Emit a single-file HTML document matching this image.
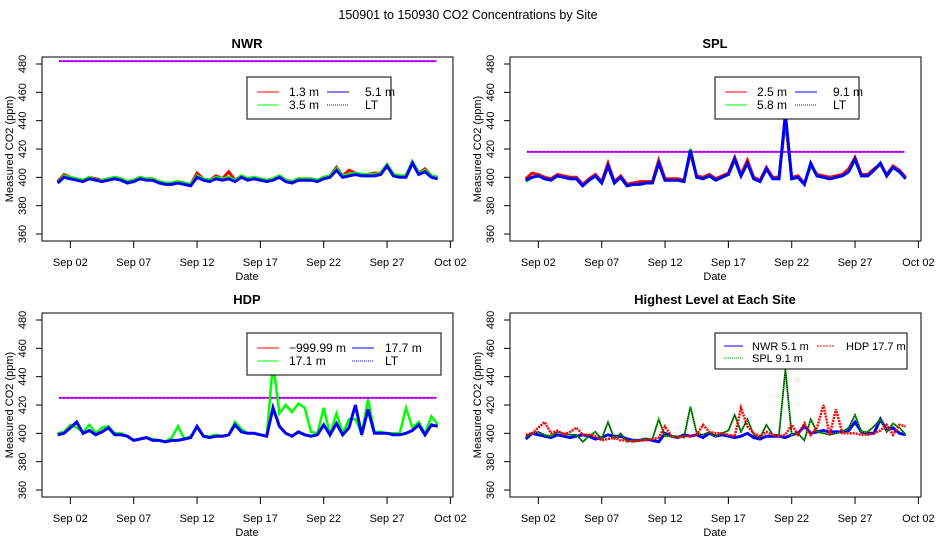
<!DOCTYPE html>
<html><head><meta charset="utf-8"><style>
html,body{margin:0;padding:0;background:#fff;}
svg{display:block;font-family:"Liberation Sans",sans-serif;}
</style></head><body>
<svg id="chart" width="936" height="540" viewBox="0 0 936 540" xmlns="http://www.w3.org/2000/svg">
<rect width="936" height="540" fill="#fff"/>
<text x="468" y="19" font-size="12.5" text-anchor="middle">150901  to  150930 CO2 Concentrations by Site</text>
</svg>
<script>
// half-day samples, index i -> Sep (1 + i/2)
const xTickLabels = ["Sep 02","Sep 07","Sep 12","Sep 17","Sep 22","Sep 27","Oct 02"];
const xTickDays = [2,7,12,17,22,27,32];
const yTicks = [360,380,400,420,440,460,480];

const nwr51 = [396,400,399,398,397,399,398,397,398,399, 398,396,397,399,398,398,396,395,395,396, 395,394,400,398,397,399,398,399,397,400, 398,399,398,397,398,400,397,396,398,398, 398,397,399,400,405,400,401,402,401,401, 401,402,408,401,400,400,410,402,404,400, 399];
const nwr13 = [397,402,400,399,398,400,399,398,399,400, 399,397,398,400,399,399,397,396,396,397, 396,395,403,399,398,401,399,404,398,401, 399,400,399,398,399,401,398,397,399,399, 399,398,400,401,407,401,405,403,402,402, 403,403,409,402,401,401,411,403,406,401, 400];
const nwr35 = [396,401,400,399,398,400,398,398,399,400, 399,397,398,400,399,399,397,396,396,397, 396,395,401,399,398,400,399,400,398,401, 399,400,399,398,399,401,398,397,399,399, 399,398,400,401,406,401,402,403,402,402, 402,403,409,402,401,401,411,403,405,401, 400];
const spl91 = [398,400,401,399,398,401,400,399,399,394, 398,401,396,408,396,400,394,395,395,396, 396,410,398,398,398,397,419,400,399,401, 398,400,402,413,401,410,399,397,406,399, 399,445,399,400,395,410,401,400,399,400, 401,404,413,401,401,405,410,401,407,404, 399];
const spl25 = [399,403,402,400,399,402,401,400,400,395, 399,402,397,410,397,401,395,396,397,397, 397,412,399,399,399,398,417,401,400,402, 399,401,403,414,402,412,400,398,407,400, 400,440,400,401,396,408,402,401,400,401, 402,406,414,402,402,406,409,402,408,405, 400];
const spl58 = [397,400,401,399,398,401,400,399,399,394, 398,401,396,408,396,400,394,395,395,396, 396,410,398,398,398,397,420,400,399,401, 398,400,402,412,401,410,399,397,406,399, 399,443,399,400,395,409,401,400,399,400, 401,404,412,401,401,405,410,401,407,404, 399];
const hdp177 = [399,400,404,408,400,402,399,401,404,399, 399,398,395,396,397,395,395,394,395,395, 396,397,405,398,397,398,398,399,406,401, 400,400,399,398,418,405,400,398,401,399, 398,399,406,399,407,399,404,420,399,417, 400,400,400,399,399,400,402,406,399,406, 405];
const hdp171 = [400,401,406,404,401,406,400,404,405,400, 400,398,395,396,397,396,395,394,397,405, 396,398,404,398,398,399,398,399,408,403, 400,400,399,398,450,414,420,415,421,418, 401,400,418,399,414,400,410,410,400,424, 401,401,400,400,400,418,404,408,400,412, 406];
const ltNWR = [482];
const ltSPL = [418];
const ltHDP = [425];

const svg = document.getElementById('chart');
const NS = 'http://www.w3.org/2000/svg';
function el(tag, attrs, parent){
  const e = document.createElementNS(NS, tag);
  for (const k in attrs) e.setAttribute(k, attrs[k]);
  (parent||svg).appendChild(e);
  return e;
}
function xScale(ox, day){ return ox + 57.7 + (day - 1) * 12.667; }
function yScale(oy, v){ return oy + 64 + (480 - v) * 1.4167; }

function panel(ox, oy, title, name){
  const g = el('g', {});
  
  
  const t = el('text', {x: ox + 247, y: oy + 48, 'font-size': 13, 'font-weight': 'bold', 'text-anchor': 'middle'}, g);
  t.textContent = title;
  
  
  const box = el('rect', {x: ox + 42, y: oy + 57, width: 411, height: 184, fill: 'none', stroke: '#000', 'stroke-width': 1}, g);
  
  
  yTicks.forEach(v => {
    const y = yScale(oy, v);
    el('line', {x1: ox + 36, x2: ox + 42, y1: y, y2: y, stroke: '#000'}, g);
    const lt = el('text', {x: 0, y: 0, 'font-size': 11, 'text-anchor': 'middle', transform: `translate(${ox + 26},${y}) rotate(-90)`}, g);
    lt.textContent = v;
    
    
  });
  xTickDays.forEach((d, i) => {
    const x = xScale(ox, d);
    el('line', {x1: x, x2: x, y1: oy + 241, y2: oy + 248, stroke: '#000'}, g);
    const lt = el('text', {x: x, y: oy + 266, 'font-size': 11, 'text-anchor': 'middle'}, g);
    lt.textContent = xTickLabels[i];
    
    
  });
  const xt = el('text', {x: ox + 247, y: oy + 280, 'font-size': 11, 'text-anchor': 'middle'}, g);
  xt.textContent = 'Date';
  
  
  const yt = el('text', {x: 0, y: 0, 'font-size': 11, 'text-anchor': 'middle', transform: `translate(${ox + 13},${oy + 149}) rotate(-90)`}, g);
  yt.textContent = 'Measured CO2 (ppm)';
  
  
  return g;
}
function series(g, ox, oy, arr, color, width, dash, name){
  let d = '';
  arr.forEach((v, i) => { d += (i ? 'L' : 'M') + xScale(ox, 1 + i / 2).toFixed(1) + ' ' + yScale(oy, v).toFixed(1); });
  const p = el('path', {d: d, fill: 'none', stroke: color, 'stroke-width': width, 'stroke-linejoin': 'miter'}, g);
  if (dash) p.setAttribute('stroke-dasharray', dash);
  
  
}
function ltLine(g, ox, oy, val, name){
  const y = yScale(oy, val[0]);
  const x1 = xScale(ox, 1.1), x2 = xScale(ox, 30.9);
  const a = el('line', {x1: x1, x2: x2, y1: y, y2: y, stroke: '#f0f', 'stroke-width': 2}, g);
  
  
  el('line', {x1: x1, x2: x2, y1: y, y2: y, stroke: '#00f', 'stroke-width': 1, 'stroke-dasharray': '2 2'}, g);
}
function legend(g, ox, oy, bx, by, bw, bh, items, name){
  const lg = el('g', {}, g);
  
  
  el('rect', {x: ox + bx, y: oy + by, width: bw, height: bh, fill: '#fff', stroke: '#000'}, lg);
  items.forEach(it => {
    const ln = el('line', {x1: ox + it.lx, x2: ox + it.lx + it.lw, y1: oy + it.y, y2: oy + it.y, stroke: it.color, 'stroke-width': 1}, lg);
    if (it.dash) ln.setAttribute('stroke-dasharray', it.dash);
    if (it.lt) el('line', {x1: ox + it.lx, x2: ox + it.lx + it.lw, y1: oy + it.y, y2: oy + it.y, stroke: '#00f', 'stroke-dasharray': '1 1'}, lg);
    const t = el('text', {x: ox + it.tx, y: oy + it.y + 4, 'font-size': it.fs || 12, 'xml:space': 'preserve'}, lg);
    t.textContent = it.label;
    
    
  });
}
function stdLegend(g, ox, oy, labels, w, c2l, c2t, by){
  legend(g, ox, oy, 247, by, w, 42, [
    {lx: 257, lw: 22, tx: 289, y: by + 15, color: '#f00', label: labels[0]},
    {lx: 257, lw: 22, tx: 289, y: by + 28, color: '#0f0', label: labels[1]},
    {lx: c2l, lw: 22, tx: c2t, y: by + 15, color: '#00f', label: labels[2]},
    {lx: c2l, lw: 22, tx: c2t, y: by + 28, color: '#f0f', dash: '1 1', lt: true, label: labels[3]}
  ], 'legend');
}

// NWR
let g = panel(0, 0, 'NWR', 'nwr');
ltLine(g, 0, 0, ltNWR, 'nwr-lt-line');
series(g, 0, 0, nwr13, '#f00', 3, null, 'nwr-1.3m-line');
series(g, 0, 0, nwr35, '#0f0', 3, null, 'nwr-3.5m-line');
series(g, 0, 0, nwr51, '#00f', 3, null, 'nwr-5.1m-line');
stdLegend(g, 0, 0, ['1.3 m','3.5 m','5.1 m','LT'], 144, 327, 365, 77);

// SPL
g = panel(468, 0, 'SPL', 'spl');
ltLine(g, 468, 0, ltSPL, 'spl-lt-line');
series(g, 468, 0, spl25, '#f00', 3, null, 'spl-2.5m-line');
series(g, 468, 0, spl58, '#0f0', 3, null, 'spl-5.8m-line');
series(g, 468, 0, spl91, '#00f', 3, null, 'spl-9.1m-line');
stdLegend(g, 468, 0, ['2.5 m','5.8 m','9.1 m','LT'], 144, 327, 365, 77);

// HDP
g = panel(0, 256, 'HDP', 'hdp');
ltLine(g, 0, 256, ltHDP, 'hdp-lt-line');
series(g, 0, 256, hdp171, '#0f0', 2.5, null, 'hdp-17.1m-line');
series(g, 0, 256, hdp177, '#00f', 3, null, 'hdp-17.7m-line');
stdLegend(g, 0, 256, ['\u2212999.99 m','17.1 m','17.7 m','LT'], 194, 352, 385, 333 - 256);

// Highest
g = panel(468, 256, 'Highest Level at Each Site', 'highest');
series(g, 468, 256, nwr51, '#00f', 3, null, 'highest-nwr-line');
series(g, 468, 256, spl91, '#000', 1.5, null, 'highest-spl-line');
series(g, 468, 256, spl91, '#0c0', 2, '1 1', 'highest-spl-dots');
series(g, 468, 256, hdp177, '#f00', 2.5, '2 1', 'highest-hdp-line');
legend(g, 468, 256, 247, 77, 192, 36, [
  {lx: 256, lw: 19, tx: 284, y: 90, color: '#00f', label: 'NWR   5.1 m', fs: 11},
  {lx: 256, lw: 19, tx: 284, y: 102, color: '#0a0', dash: '1 1', label: 'SPL   9.1 m', fs: 11},
  {lx: 349, lw: 18, tx: 378, y: 90, color: '#f00', dash: '2 1', label: 'HDP   17.7 m', fs: 11}
], 'highest-legend');
</script>
</body></html>
